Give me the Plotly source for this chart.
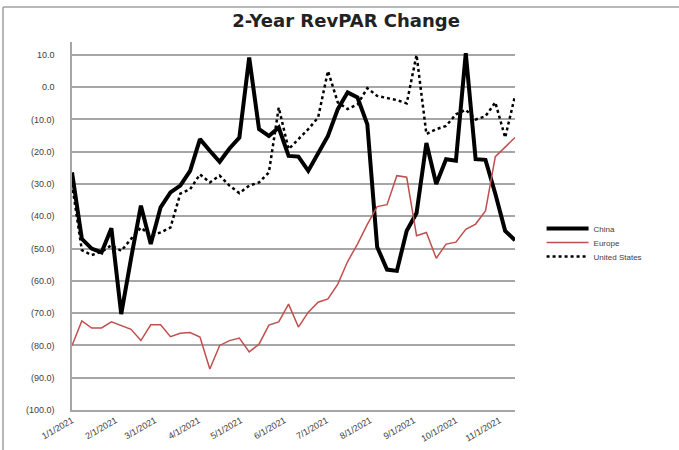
import pandas as pd
import plotly.graph_objects as go

# ---- data (weekly, 2021) ----
dates = pd.date_range("2021-01-01", periods=46, freq="7D")

china = [-26.4, -47, -50, -51.2, -43.7, -70.3, -53, -36.7, -48.6, -37.2,
         -32.6, -30.5, -25.9, -16.1, -19.7, -23.1, -19, -15.6, 9.2, -13,
         -15.1, -12.5, -21.3, -21.5, -25.9, -20.2, -15.1, -6.8, -1.6, -3.2,
         -11.5, -49.5, -56.5, -56.9, -44.5, -39, -17.3, -30, -22.3, -22.8,
         10.5, -22.3, -22.5, -33, -44.5, -47.4]
europe = [-80, -72.4, -74.6, -74.6, -72.7, -73.8, -75, -78.5, -73.6, -73.6,
          -77.3, -76.2, -76, -77.4, -87.3, -80, -78.5, -77.7, -82, -79.6,
          -73.7, -72.7, -67.2, -74.3, -69.7, -66.6, -65.6, -61, -54, -48.6,
          -42.5, -37, -36.4, -27.4, -27.9, -46, -45, -53, -48.6, -48,
          -44, -42.4, -38.3, -21.5, -18.7, -15.6]
us = [-30, -50.5, -52, -51, -49, -50.7, -47, -43.5, -46, -45,
      -43.5, -33, -31.6, -27, -29.5, -27.4, -30.5, -32.8, -30.5, -29.5,
      -26.4, -6.3, -19.2, -16.1, -13, -9.4, 5, -4.7, -6.8, -5.3,
      -0.3, -2.7, -3.3, -4, -5, 10, -14.5, -13, -12, -8.4,
      -7, -10, -9, -4.7, -15.6, -2.7]

y_ticks = [10, 0, -10, -20, -30, -40, -50, -60, -70, -80, -90, -100]
y_ticktext = [f"{v:.1f}" if v >= 0 else f"({abs(v):.1f})" for v in y_ticks]

title_text = "2-Year RevPAR Change"

# ---- figure ----
fig = go.Figure()
fig.add_trace(go.Scatter(x=dates, y=china, name="China", mode="lines",
                         line=dict(color="#000000", width=4),
                         legend="legend", showlegend=True))
fig.add_trace(go.Scatter(x=dates, y=europe, name="Europe", mode="lines",
                         line=dict(color="#C0504D", width=1.5),
                         legend="legend2", showlegend=True))
fig.add_trace(go.Scatter(x=dates, y=us, name="United States", mode="lines",
                         line=dict(color="#000000", width=2.5, dash="dot"),
                         legend="legend3", showlegend=True))

grid_col = "#A6A6A6"
font_fam = "Liberation Sans, Arial, sans-serif"


def leg(ypix):
    # legend item centre at pixel row ypix
    return dict(
        x=1.06, y=(410 - ypix + 14) / 368, xanchor="left", yanchor="top",
        font=dict(size=8, color="#404040"), itemwidth=42,
        bgcolor="rgba(0,0,0,0)",
    )


fig.update_layout(
    width=679, height=450,
    showlegend=True,
    margin=dict(l=72, r=164, t=42, b=40),
    paper_bgcolor="white", plot_bgcolor="white",
    title=dict(text=f"<b>{title_text}</b>", x=346 / 679, xanchor="center",
               y=1 - 21 / 450, yanchor="middle",
               font=dict(family="DejaVu Sans, sans-serif", size=18, color="#222222")),
    font=dict(family=font_fam, size=8, color="#404040"),
    xaxis=dict(
        type="date",
        range=[dates[0], dates[-1]],
        tick0="2021-01-01", dtick="M1", tickformat="%-m/%-d/%Y",
        tickangle=-30, tickfont=dict(size=9, color="#404040"),
        showgrid=False, zeroline=False,
        showline=True, linecolor=grid_col, linewidth=1.5,
        ticks="", automargin=False,
    ),
    xaxis2=dict(
        overlaying="x", matches="x", anchor="free",
        position=100 / 114, showticklabels=False, showgrid=False,
        zeroline=False, showline=False,
        ticks="outside", ticklen=3, tickcolor="#888888", tickwidth=1,
        tick0="2021-01-01", dtick="M1",
    ),
    yaxis=dict(
        range=[-100, 14], tickvals=y_ticks, ticktext=y_ticktext,
        tickfont=dict(size=9, color="#404040"),
        showgrid=True, gridcolor=grid_col, gridwidth=1.5,
        zeroline=False, showline=True, linecolor=grid_col, linewidth=1.5,
        ticklabelstandoff=14, automargin=False,
    ),
    legend=leg(228),
    legend2=leg(242),
    legend3=leg(256),
    shapes=[
        dict(type="line", xref="paper", yref="paper",
             x0=(3 - 72) / 443, x1=(679 - 72) / 443,
             y0=(410 - 7) / 368, y1=(410 - 7) / 368,
             line=dict(color="#A0A0A0", width=1.5)),
        dict(type="line", xref="paper", yref="paper",
             x0=(3 - 72) / 443, x1=(3 - 72) / 443,
             y0=(410 - 7) / 368, y1=(410 - 450) / 368,
             line=dict(color="#A0A0A0", width=1.5)),
    ],
)

fig.write_html("out.html")
